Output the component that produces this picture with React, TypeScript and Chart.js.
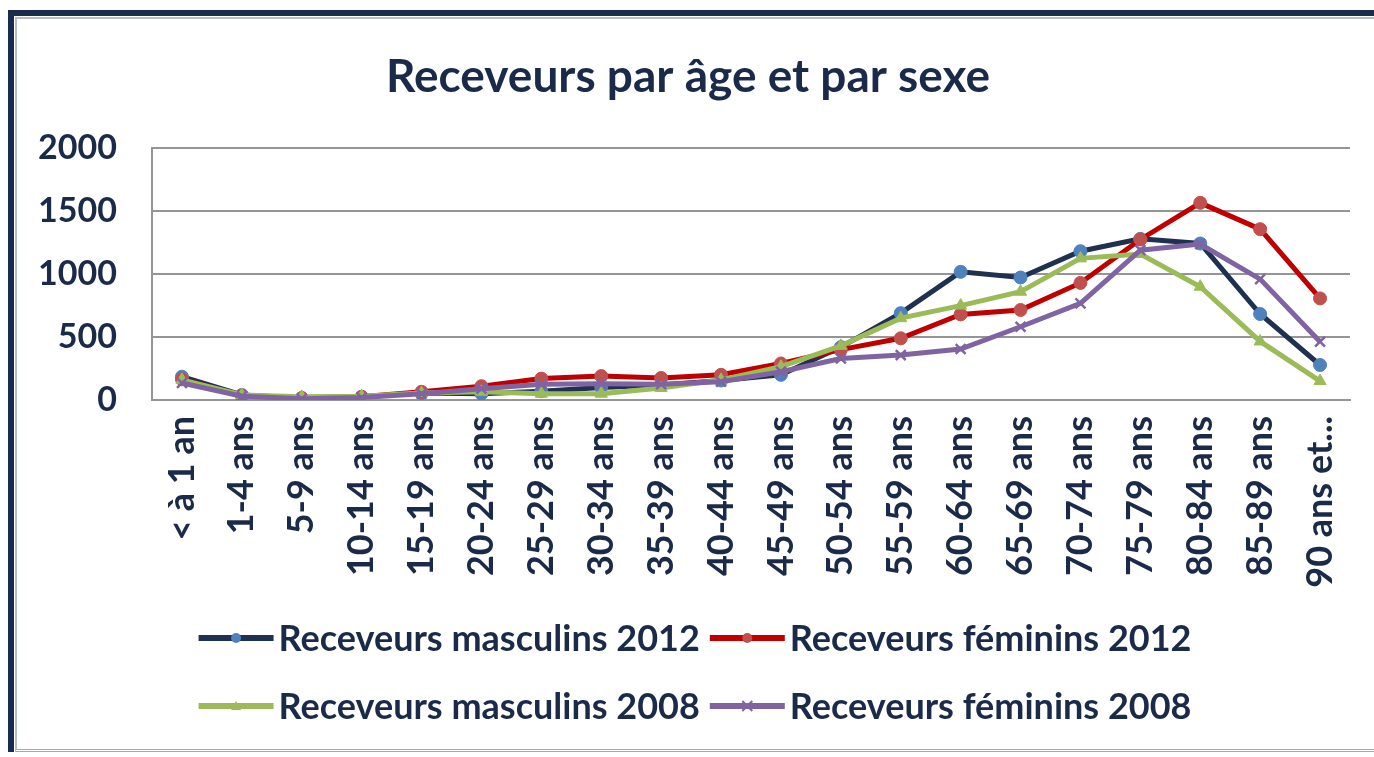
import React, { useEffect, useRef } from "react";
import { Chart, registerables } from "chart.js";

Chart.register(...registerables);

const categories = [
  "< à 1 an", "1-4 ans", "5-9 ans", "10-14 ans", "15-19 ans", "20-24 ans",
  "25-29 ans", "30-34 ans", "35-39 ans", "40-44 ans", "45-49 ans", "50-54 ans",
  "55-59 ans", "60-64 ans", "65-69 ans", "70-74 ans", "75-79 ans", "80-84 ans",
  "85-89 ans", "90 ans et...",
];

const masculins2012 = [185, 40, 15, 25, 55, 50, 70, 100, 120, 155, 200, 420, 690, 1018, 973, 1182, 1280, 1243, 683, 278];
const feminins2012 = [165, 35, 15, 25, 65, 110, 170, 190, 175, 200, 290, 400, 490, 680, 715, 930, 1275, 1566, 1357, 807];
const masculins2008 = [160, 40, 25, 30, 55, 65, 50, 50, 95, 160, 265, 430, 650, 750, 860, 1125, 1160, 900, 465, 150];
const feminins2008 = [135, 30, 10, 20, 50, 90, 125, 130, 125, 145, 225, 330, 357, 405, 582, 767, 1190, 1238, 960, 463];

const seriesNames = [
  "Receveurs masculins 2012",
  "Receveurs féminins 2012",
  "Receveurs masculins 2008",
  "Receveurs féminins 2008",
];

const yTicks = [0, 500, 1000, 1500, 2000];

const TEXT = "#1b2a48";
const FONT = "Lato";

const legendPlugin = {
  id: "excelLegend",
  afterDraw(chart: any) {
    const ctx = chart.ctx as CanvasRenderingContext2D;
    const ds = chart.data.datasets;
    ctx.save();
    ctx.font = `bold 36px ${FONT}`;
    ctx.textBaseline = "middle";
    const lineLen = 75, gapText = 5, gapItem = 10;
    const w0 = Math.max(ctx.measureText(ds[0].label).width, ctx.measureText(ds[2].label).width);
    const w1 = Math.max(ctx.measureText(ds[1].label).width, ctx.measureText(ds[3].label).width);
    const total = lineLen + gapText + w0 + gapItem + lineLen + gapText + w1;
    const startX = 695 - total / 2;
    const colX = [startX, startX + lineLen + gapText + w0 + gapItem];
    const rowY = [638, 706];
    for (let i = 0; i < 4; i++) {
      const d = ds[i];
      const x = colX[i % 2];
      const y = rowY[Math.floor(i / 2)];
      ctx.strokeStyle = d.borderColor;
      ctx.lineWidth = 6;
      ctx.lineCap = "butt";
      ctx.beginPath();
      ctx.moveTo(x, y);
      ctx.lineTo(x + lineLen, y);
      ctx.stroke();
      const cx = x + lineLen / 2;
      const r = 5;
      ctx.fillStyle = d.pointBackgroundColor;
      ctx.strokeStyle = d.pointBorderColor;
      if (d.pointStyle === "circle") {
        ctx.beginPath();
        ctx.arc(cx, y, r, 0, Math.PI * 2);
        ctx.fill();
      } else if (d.pointStyle === "triangle") {
        ctx.beginPath();
        ctx.moveTo(cx, y - r);
        ctx.lineTo(cx + r, y + r * 0.8);
        ctx.lineTo(cx - r, y + r * 0.8);
        ctx.closePath();
        ctx.fill();
      } else {
        ctx.lineWidth = 2;
        ctx.beginPath();
        ctx.moveTo(cx - r, y - r);
        ctx.lineTo(cx + r, y + r);
        ctx.moveTo(cx + r, y - r);
        ctx.lineTo(cx - r, y + r);
        ctx.stroke();
      }
      ctx.fillStyle = TEXT;
      ctx.textAlign = "left";
      ctx.fillText(d.label, x + lineLen + gapText, y + 1);
    }
    ctx.restore();
  },
};

export default function App() {
  const canvasRef = useRef<HTMLCanvasElement | null>(null);

  useEffect(() => {
    const canvas = canvasRef.current;
    if (!canvas) return;
    const chart = new Chart(canvas, {
      type: "line",
      data: {
        labels: categories,
        datasets: [
          {
            label: seriesNames[0],
            data: masculins2012,
            borderColor: "#1f3050",
            borderWidth: 5,
            pointStyle: "circle",
            pointRadius: 6.5,
            pointBackgroundColor: "#4f81bd",
            pointBorderColor: "#4f81bd",
            pointBorderWidth: 1,
            order: 4,
          },
          {
            label: seriesNames[1],
            data: feminins2012,
            borderColor: "#c00000",
            borderWidth: 5,
            pointStyle: "circle",
            pointRadius: 6.5,
            pointBackgroundColor: "#c0504d",
            pointBorderColor: "#c0504d",
            pointBorderWidth: 1,
            order: 3,
          },
          {
            label: seriesNames[2],
            data: masculins2008,
            borderColor: "#9bbb59",
            borderWidth: 5,
            pointStyle: "triangle",
            pointRadius: 7,
            pointBackgroundColor: "#9bbb59",
            pointBorderColor: "#9bbb59",
            pointBorderWidth: 1,
            order: 2,
          },
          {
            label: seriesNames[3],
            data: feminins2008,
            borderColor: "#8064a2",
            borderWidth: 5,
            pointStyle: "crossRot",
            pointRadius: 7,
            pointBackgroundColor: "#8064a2",
            pointBorderColor: "#8064a2",
            pointBorderWidth: 2.5,
            order: 1,
          },
        ],
      },
      options: {
        responsive: false,
        animation: false,
        devicePixelRatio: 1,
        layout: { padding: { left: 26, right: 24, top: 50, bottom: 157 } },
        plugins: {
          legend: { display: false },
          tooltip: { enabled: false },
          title: {
            display: true,
            text: "Receveurs par âge et par sexe",
            color: TEXT,
            font: { family: FONT, size: 46, weight: "bold", lineHeight: 1.2 },
            padding: { top: 0, bottom: 43 },
          },
        },
        scales: {
          x: {
            type: "category",
            offset: true,
            grid: { display: false, drawTicks: false },
            border: { display: true, color: "#959595", width: 2 },
            ticks: {
              color: TEXT,
              font: { family: FONT, size: 36, weight: "bold" },
              minRotation: 90,
              maxRotation: 90,
              autoSkip: false,
              padding: 16,
            },
            afterFit(scale: any) {
              scale.height = 200;
              scale.paddingLeft = 0;
              scale.paddingRight = 0;
            },
          },
          y: {
            min: 0,
            max: 2000,
            afterBuildTicks(scale: any) {
              scale.ticks = yTicks.map((v) => ({ value: v }));
            },
            grid: { color: "#959595", lineWidth: 2, drawTicks: false },
            border: { display: true, color: "#959595", width: 2 },
            ticks: {
              color: TEXT,
              font: { family: FONT, size: 34, weight: "bold" },
              padding: 35,
              callback: (v: any) => String(v),
            },
            afterFit(scale: any) {
              scale.width = 126;
            },
          },
        },
      },
      plugins: [legendPlugin],
    });
    return () => chart.destroy();
  }, []);

  return (
    <div style={{ position: "fixed", left: 0, top: 0, width: 1374, height: 757, overflow: "hidden", background: "#fff" }}>
      <div
        style={{
          position: "absolute",
          left: 8,
          top: 10,
          width: 1400,
          height: 742,
          borderLeft: "6px solid #1b2b4b",
          borderTop: "6px solid #1b2b4b",
          boxSizing: "border-box",
        }}
      >
        <div
          style={{
            position: "absolute",
            left: 1,
            top: 1,
            right: 0,
            bottom: 0,
            borderLeft: "2px solid #b8bcc4",
            borderTop: "2px solid #b8bcc4",
            borderBottom: "3px double #a8a8a8",
          }}
        />
      </div>
      <canvas ref={canvasRef} width={1374} height={757} style={{ position: "absolute", left: 0, top: 0 }} />
    </div>
  );
}
